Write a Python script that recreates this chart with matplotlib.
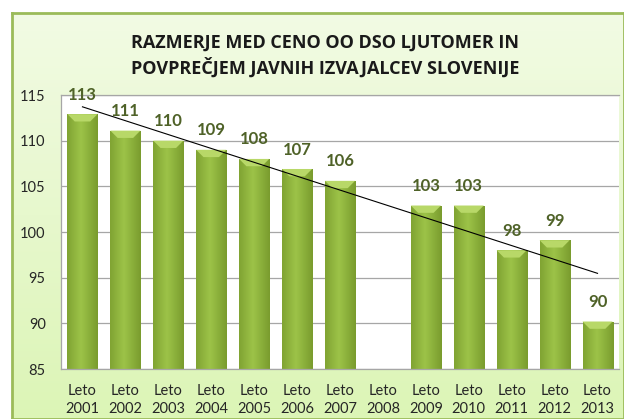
import numpy as np
import matplotlib
matplotlib.use("Agg")
import matplotlib.pyplot as plt

categories = ["Leto\n2001", "Leto\n2002", "Leto\n2003", "Leto\n2004", "Leto\n2005",
              "Leto\n2006", "Leto\n2007", "Leto\n2008", "Leto\n2009", "Leto\n2010",
              "Leto\n2011", "Leto\n2012", "Leto\n2013"]
values = [112.9, 111.1, 110.0, 109.0, 108.0, 106.9, 105.6, np.nan, 102.9, 102.9, 98.0, 99.1, 90.2]
labels = ["113", "111", "110", "109", "108", "107", "106", "", "103", "103", "98", "99", "90"]
yticks = [85, 90, 95, 100, 105, 110, 115]
title = "RAZMERJE MED CENO OO DSO LJUTOMER IN\nPOVPREČJEM JAVNIH IZVAJALCEV SLOVENIJE"

plt.rcParams['font.family'] = ['Lato', 'DejaVu Sans']

W, H = 624, 419
fig = plt.figure(figsize=(W / 100, H / 100), dpi=100)
fig.patch.set_facecolor('white')

# background frame with gradient
bg = fig.add_axes([12 / W, 0, 1 - 12 / W, 1 - 13 / H], zorder=0)
grad = np.linspace(0, 1, 256)[:, None]
c_top = np.array([0xf2, 0xfb, 0xe4]) / 255
c_bot = np.array([0xdc, 0xf5, 0xb6]) / 255
img = c_top[None, None, :] * (1 - grad[:, :, None]) + c_bot[None, None, :] * grad[:, :, None]
bg.imshow(img, aspect='auto', extent=[0, 1, 0, 1], origin='upper')
bg.set_xlim(0, 1); bg.set_ylim(0, 1)
bg.set_xticks([]); bg.set_yticks([])
for s in bg.spines.values():
    s.set_color('#9bbb59'); s.set_linewidth(2.0)

ax = fig.add_axes([61 / W, 1 - 369 / H, 558 / W, 274 / H], zorder=1)
ax.set_facecolor('white')
x = np.arange(1, len(categories) + 1)
ax.set_xlim(0.5, 13.5)
ax.set_ylim(85, 115)

bw = 0.7
vals = np.array(values, dtype=float)
hg = np.linspace(0, 1, 64)
prof = 1 - np.abs(hg - 0.45) * 2
prof = (prof - prof.min()) / (prof.max() - prof.min())
c_mid = np.array([0x9c, 0xc3, 0x48]) / 255
c_edge = np.array([0x7a, 0x9c, 0x2e]) / 255
bar_img = (c_edge[None, :] + (c_mid - c_edge)[None, :] * prof[:, None])[None, :, :]

bars = ax.bar(x, vals, width=bw, bottom=0, color='#8db43a', edgecolor='#7a9a30', linewidth=0.6, zorder=2)
for xi, v, b in zip(x, vals, bars):
    if np.isnan(v):
        continue
    im = ax.imshow(bar_img, extent=[xi - bw / 2, xi + bw / 2, 85, v], aspect='auto', zorder=2.1, interpolation='bicubic')
    im.set_clip_path(b)
    top = [[xi - bw / 2, v], [xi + bw / 2, v], [xi + bw / 2 - 0.17, v - 0.8], [xi - bw / 2 + 0.17, v - 0.8]]
    ax.add_patch(plt.Polygon(top, closed=True, facecolor='#b8d868', edgecolor='none', zorder=2.2))

for xi, v, lab in zip(x, vals, labels):
    if np.isnan(v) or not lab:
        continue
    ax.annotate(lab, (xi, v), xytext=(0, 14), textcoords='offset points', ha='center', va='center',
                fontsize=12, fontweight='bold', color='#4f6228', zorder=4, annotation_clip=False)

# linear trend
m = ~np.isnan(vals)
k, c = np.polyfit(x[m], vals[m], 1)
ax.plot([x[0], x[-1]], [k * x[0] + c, k * x[-1] + c], color='black', linewidth=0.8, zorder=3)

ax.set_yticks(yticks)
ax.yaxis.grid(True, color='#a6a6a6', linewidth=0.9, zorder=0)
ax.set_axisbelow(True)
ax.set_xticks(x)
ax.set_xticklabels(categories, fontsize=10.5, color='#262626', linespacing=1.3)
ax.tick_params(axis='y', labelsize=10.5, colors='#262626', length=0, pad=11)
ax.tick_params(axis='x', length=0, pad=11)
for s in ['left', 'top', 'bottom']:
    ax.spines[s].set_color('#a6a6a6'); ax.spines[s].set_linewidth(0.9)
ax.spines['right'].set_visible(False)

fig.text(325 / W, 1 - 56 / H, title, ha='center', va='center', fontsize=13, fontweight='bold',
         color='#1a1a1a', linespacing=1.35, family=['Open Sans', 'DejaVu Sans'])

fig.savefig('out.png', dpi=100, facecolor='white')
